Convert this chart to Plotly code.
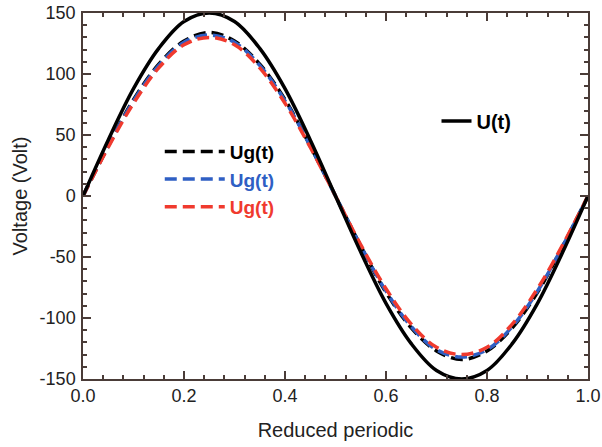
import plotly.graph_objects as go

# Reduced periodic (x) sample positions
t = [0.00, 0.05, 0.10, 0.15, 0.20, 0.25, 0.30, 0.35, 0.40, 0.45, 0.50,
     0.55, 0.60, 0.65, 0.70, 0.75, 0.80, 0.85, 0.90, 0.95, 1.00]

# Voltage values
u_t = [0, 46, 88, 121, 143, 150, 143, 121, 88, 46, 0,
       -46, -88, -121, -143, -150, -143, -121, -88, -46, 0]
ug_black = [0, 41, 79, 108, 127, 134, 127, 108, 79, 41, 0,
            -41, -79, -108, -127, -134, -127, -108, -79, -41, 0]
ug_blue = [0, 41, 78, 107, 126, 132, 126, 107, 78, 41, 0,
           -41, -78, -107, -126, -132, -126, -107, -78, -41, 0]
ug_red = [0, 40, 76, 105, 124, 130, 124, 105, 76, 40, 0,
          -40, -76, -105, -124, -130, -124, -105, -76, -40, 0]

x_ticks = [0.0, 0.2, 0.4, 0.6, 0.8, 1.0]
x_tick_text = ["0.0", "0.2", "0.4", "0.6", "0.8", "1.0"]
y_ticks = [-150, -100, -50, 0, 50, 100, 150]
y_tick_text = ["-150", "-100", "-50", "0", "50", "100", "150"]

BLACK = "#000000"
BLUE = "#2f5fc4"
RED = "#f03a2e"
AXIS = "#4a3c38"
TEXT = "#222222"
FONT = "Liberation Sans, Arial, sans-serif"
DASH = "12px,6px"

fig = go.Figure()
fig.add_trace(go.Scatter(x=t, y=ug_black, mode="lines", line_shape="spline",
                         line=dict(color=BLACK, width=3.5, dash=DASH),
                         name="<b>Ug(t)</b>", legend="legend2"))
fig.add_trace(go.Scatter(x=t, y=ug_blue, mode="lines", line_shape="spline",
                         line=dict(color=BLUE, width=3.5, dash=DASH),
                         name=f"<b><span style='color:{BLUE}'>Ug(t)</span></b>", legend="legend2"))
fig.add_trace(go.Scatter(x=t, y=ug_red, mode="lines", line_shape="spline",
                         line=dict(color=RED, width=3.5, dash=DASH),
                         name=f"<b><span style='color:{RED}'>Ug(t)</span></b>", legend="legend2"))
fig.add_trace(go.Scatter(x=t, y=u_t, mode="lines", line_shape="spline",
                         line=dict(color=BLACK, width=3.5),
                         name="<b>U(t)</b>", legend="legend"))

axis_common = dict(
    showline=True, linecolor=AXIS, linewidth=1.5, mirror="ticks",
    ticks="inside", ticklen=8, tickwidth=1.5, tickcolor=AXIS,
    showgrid=False, zeroline=False, automargin=False,
    ticklabeloverflow="allow",
    tickfont=dict(family=FONT, size=18, color=TEXT),
)

fig.update_layout(
    width=602, height=447,
    margin=dict(l=83, r=14, t=13, b=68),
    paper_bgcolor="white", plot_bgcolor="white",
    font=dict(family=FONT, color=TEXT),
    xaxis=dict(range=[0, 1], tickvals=x_ticks, ticktext=x_tick_text,
               minor=dict(dtick=0.04, ticks="inside", ticklen=4, tickwidth=1.5, tickcolor=AXIS),
               title=dict(text="Reduced periodic", font=dict(family=FONT, size=20, color=TEXT), standoff=18),
               **axis_common),
    yaxis=dict(range=[-150, 150], tickvals=y_ticks, ticktext=y_tick_text,
               ticklabelstandoff=2,
               minor=dict(dtick=10, ticks="inside", ticklen=4, tickwidth=1.5, tickcolor=AXIS),
               title=dict(text="Voltage (Volt)", font=dict(family=FONT, size=20, color=TEXT), standoff=7),
               **axis_common),
    legend=dict(x=0.70, y=0.705, xanchor="left", yanchor="middle",
                bgcolor="rgba(0,0,0,0)", font=dict(family=FONT, size=20, color=BLACK)),
    legend2=dict(x=0.152, y=0.545, xanchor="left", yanchor="middle",
                 bgcolor="rgba(0,0,0,0)", font=dict(family=FONT, size=19, color=BLACK),
                 itemwidth=60, tracegroupgap=0),
    showlegend=True,
)

fig.write_html("out.html", config={"displayModeBar": False},
               post_script="document.body.style.margin='0';")
